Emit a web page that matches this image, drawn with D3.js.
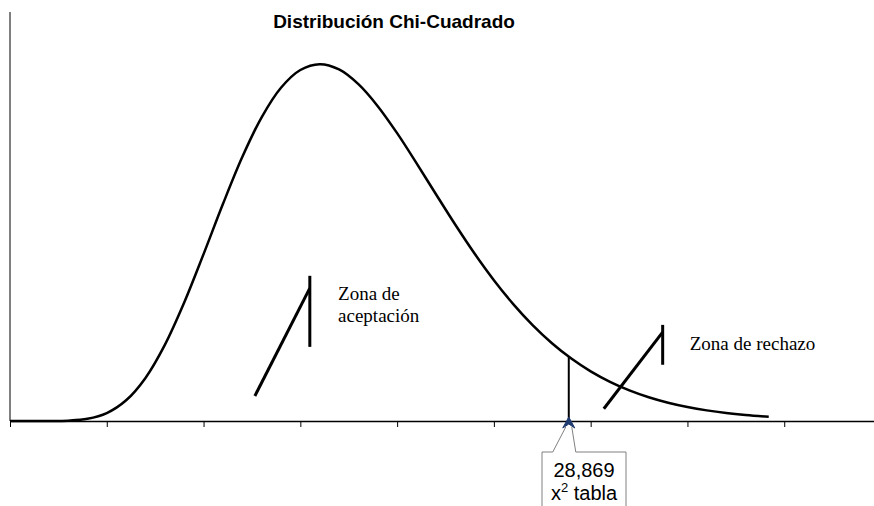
<!DOCTYPE html>
<html>
<head>
<meta charset="utf-8">
<script src="https://cdn.jsdelivr.net/npm/d3@7"></script>
<style>
  body { margin: 0; background: #fff; }
  svg { display: block; }
</style>
</head>
<body>
<svg></svg>
<script>
// chi-square curve (18 g.l.)
const chiX = [0, 1, 2, 3, 4, 5, 6, 7, 8, 9, 10, 11, 12, 13, 14, 15, 16, 17, 18, 19,
              20, 21, 22, 23, 24, 25, 26, 27, 28, 29, 30, 31, 32, 33, 34, 35, 36, 37, 38, 39, 39.2];
const density = [0, 0.00000003, 0.0000046, 0.000071, 0.00043, 0.00155, 0.00405, 0.00843, 0.01489, 0.02317,
                 0.03264, 0.04244, 0.05163, 0.05941, 0.06519, 0.06866, 0.06979, 0.06876, 0.06588, 0.06158,
                 0.05630, 0.05045, 0.04440, 0.03843, 0.03276, 0.02755, 0.02287, 0.01876, 0.01522, 0.01222,
                 0.00972, 0.00767, 0.00599, 0.00465, 0.00358, 0.00274, 0.00208, 0.00157, 0.00118, 0.00088, 0.00083];
const xTicks = [0, 5, 10, 15, 20, 25, 30, 35, 40, 45];

const critValue = 28.869;
const critDensity = 0.0126;
const critLabel = ['28,869', 'tabla'];

const title = 'Distribución Chi-Cuadrado';
const zoneAccept = ['Zona de', 'aceptación'];
const zoneReject = 'Zona de rechazo';

// bracket marks in data units [x, y]
const acceptVert = [[15.49, 0.0284], [15.49, 0.0145]];
const acceptDiag = [[12.65, 0.0049], [15.49, 0.0260]];
const rejectVert = [[33.72, 0.0188], [33.72, 0.0110]];
const rejectDiag = [[30.68, 0.0024], [33.72, 0.0174]];

const width = 874, height = 506;
const svg = d3.select('svg').attr('width', width).attr('height', height);

const xScale = d3.scaleLinear().domain([0, 45]).range([10, 881]);
const yScale = d3.scaleLinear().domain([0, 0.08]).range([421, 12]);

// axes
svg.append('line')
    .attr('x1', xScale(0)).attr('x2', xScale(0))
    .attr('y1', yScale(0.08)).attr('y2', yScale(0))
    .attr('stroke', '#000').attr('stroke-width', 1);

let xAxis = d3.axisBottom(xScale)
    .tickValues(xTicks)
    .tickSize(6)
    .tickSizeOuter(0)
    .tickFormat('');
let gx = svg.append('g')
    .attr('transform', `translate(0,${yScale(0)})`)
    .call(xAxis);
gx.select('.domain').attr('stroke', '#000').attr('stroke-width', 1.5);
gx.selectAll('.tick line').attr('stroke', '#000');

// curve
let pts = chiX.map((x, i) => [x, density[i]]);
let line = d3.line()
    .x(d => xScale(d[0]))
    .y(d => yScale(d[1]))
    .curve(d3.curveCatmullRom);
svg.append('path')
    .datum(pts)
    .attr('d', line)
    .attr('fill', 'none')
    .attr('stroke', '#000')
    .attr('stroke-width', 2.5);

// critical value line
svg.append('line')
    .attr('x1', xScale(critValue)).attr('x2', xScale(critValue))
    .attr('y1', yScale(0)).attr('y2', yScale(critDensity))
    .attr('stroke', '#000').attr('stroke-width', 2);

// bracket marks
let seg = d3.line().x(d => xScale(d[0])).y(d => yScale(d[1]));
[acceptVert, acceptDiag, rejectVert, rejectDiag].forEach(s => {
    svg.append('path')
        .attr('d', seg(s))
        .attr('stroke', '#000')
        .attr('stroke-width', 3)
        .attr('fill', 'none');
});

// title
svg.append('text')
    .text(title)
    .attr('x', 394).attr('y', 28)
    .attr('text-anchor', 'middle')
    .style('font-family', '"Liberation Sans", Arial, sans-serif')
    .style('font-weight', 'bold')
    .style('font-size', '19px');

// zone labels
let serif = '"Liberation Serif", "Times New Roman", serif';
svg.append('text')
    .attr('x', xScale(16.95)).attr('y', 300)
    .style('font-family', serif).style('font-size', '19px')
    .text(zoneAccept[0]);
svg.append('text')
    .attr('x', xScale(16.95)).attr('y', 322)
    .style('font-family', serif).style('font-size', '19px')
    .text(zoneAccept[1]);
svg.append('text')
    .attr('x', xScale(35.12)).attr('y', 350)
    .style('font-family', serif).style('font-size', '19px')
    .text(zoneReject);

// callout for the critical value
let cx = xScale(critValue);
let ax = yScale(0);
let boxL = 542, boxR = 626, boxT = 452;
svg.append('path')
    .attr('d', `M${cx - 16},${boxT} L${boxL},${boxT} L${boxL},${height + 5} M${cx + 7},${boxT} L${boxR},${boxT} L${boxR},${height + 5}`)
    .attr('fill', 'none').attr('stroke', '#808080').attr('stroke-width', 1);
svg.append('path')
    .attr('d', `M${cx - 16},${boxT} L${cx - 3},${ax + 6} M${cx + 7},${boxT} L${cx + 3},${ax + 6}`)
    .attr('fill', 'none').attr('stroke', '#808080').attr('stroke-width', 1);
svg.append('path')
    .attr('d', `M${cx},${ax - 4} L${cx + 6},${ax + 7} L${cx},${ax + 3} L${cx - 6},${ax + 7} Z`)
    .attr('fill', '#1f3a6e').attr('stroke', '#1f3a6e').attr('stroke-width', 1);

let sans = '"Liberation Sans", Arial, sans-serif';
svg.append('text')
    .attr('x', (boxL + boxR) / 2).attr('y', 477)
    .attr('text-anchor', 'middle')
    .style('font-family', sans).style('font-size', '20px')
    .text(critLabel[0]);
let t2 = svg.append('text')
    .attr('x', (boxL + boxR) / 2).attr('y', 500)
    .attr('text-anchor', 'middle')
    .style('font-family', sans).style('font-size', '20px');
t2.append('tspan').text('x');
t2.append('tspan').attr('dy', -8).style('font-size', '13px').text('2');
t2.append('tspan').attr('dy', 8).text(' ' + critLabel[1]);
</script>
</body>
</html>
